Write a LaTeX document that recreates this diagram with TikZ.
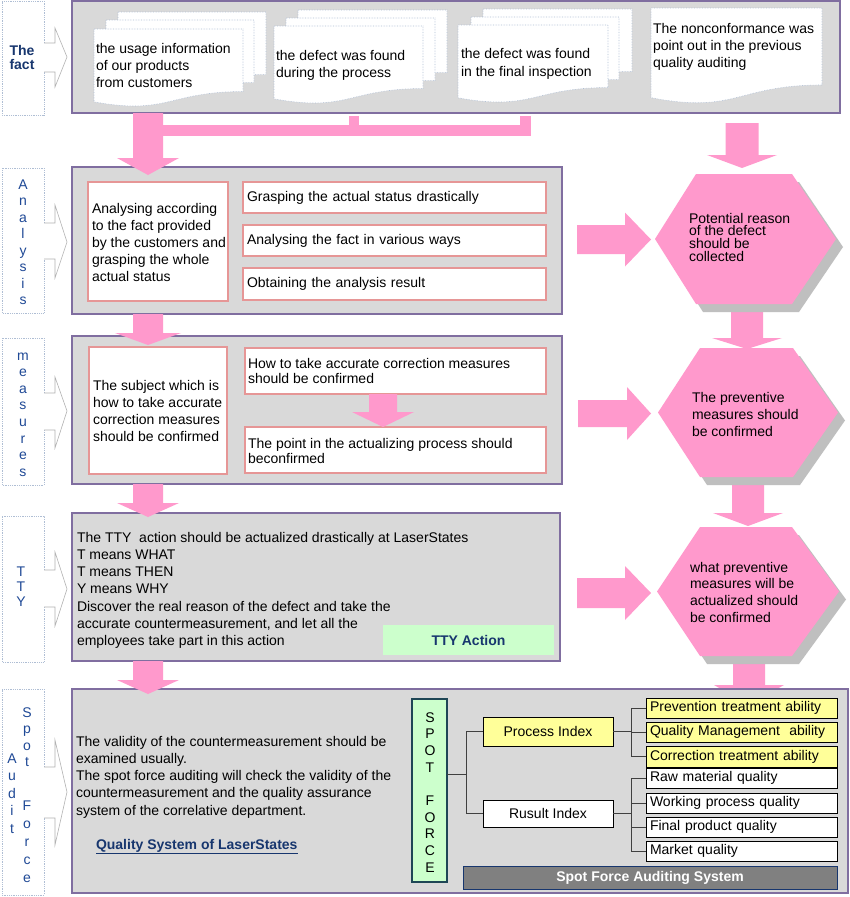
\documentclass[tikz,border=0pt]{standalone}
\usepackage{fontspec}
\setmainfont{Liberation Sans}
\definecolor{pinkA}{RGB}{255,153,204}
\definecolor{panelF}{RGB}{217,217,217}
\definecolor{panelB}{RGB}{128,110,160}
\definecolor{salm}{RGB}{230,150,150}
\definecolor{shadowG}{RGB}{191,191,191}
\definecolor{navyT}{RGB}{23,54,110}
\definecolor{blueT}{RGB}{31,73,150}
\definecolor{tagB}{RGB}{175,190,212}
\definecolor{greenF}{RGB}{204,255,204}
\definecolor{yellF}{RGB}{255,255,153}
\definecolor{tealB}{RGB}{30,70,85}
\definecolor{barF}{RGB}{128,128,128}
\definecolor{treeL}{RGB}{64,64,64}
\newcommand{\fsz}[1]{\fontsize{14}{#1}\selectfont\lineskiplimit=-20pt\relax}
\newcommand{\topst}{\rule{0pt}{11pt}}
% side tag: top, bottom, shaft top, shaft bottom, head top, head bottom, tip y
\newcommand{\sidetag}[7]{%
  \draw[tagline] (44,#3) -- (44,#1) -- (2,#1) -- (2,#2) -- (44,#2) -- (44,#4);
  \draw[tagarrow] (44,#3) -- (55,#3) -- (55,#5) -- (67,#7) -- (55,#6) -- (55,#4) -- (44,#4);}
% document page: x1 y1 x2 h
\newcommand{\docpg}[4]{%
  \filldraw[docst] (#1,#2) -- (#3,#2) -- (#3,{#2+0.802*#4}) .. controls ({(#1+#3)/2},{#2+0.802*#4}) and ({(#1+#3)/2},{#2+1.107*#4}) .. (#1,{#2+0.934*#4}) -- cycle;}
% pink down arrow: cx y0 y1 y2 shaft-half head-half
\newcommand{\pkdown}[6]{%
  \fill[pinkA] ({#1-#5},#2) -- ({#1+#5},#2) -- ({#1+#5},#3) -- ({#1+#6},#3) -- (#1,#4) -- ({#1-#6},#3) -- ({#1-#5},#3) -- cycle;}
% pink right arrow: cy x0 x1 x2 shaft-half head-half
\newcommand{\pkright}[6]{%
  \fill[pinkA] (#2,{#1-#5}) -- (#3,{#1-#5}) -- (#3,{#1-#6}) -- (#4,#1) -- (#3,{#1+#6}) -- (#3,{#1+#5}) -- (#2,{#1+#5}) -- cycle;}
% hexagon: xl xa xb xr yt yb
\newcommand{\hexa}[6]{%
  \fill[shadowG,shift={(7,8)}] (#1,{(#5+#6)/2}) -- (#2,#5) -- (#3,#5) -- (#4,{(#5+#6)/2}) -- (#3,#6) -- (#2,#6) -- cycle;
  \fill[pinkA] (#1,{(#5+#6)/2}) -- (#2,#5) -- (#3,#5) -- (#4,{(#5+#6)/2}) -- (#3,#6) -- (#2,#6) -- cycle;}
\begin{document}
\begin{tikzpicture}[x=1pt,y=-1pt,
 every node/.style={inner sep=0pt,outer sep=0pt,font=\fsz{17}},
 panel/.style={draw=panelB,line width=1.4pt,fill=panelF,anchor=north west},
 sbox/.style={draw=salm,line width=1.1pt,fill=white,anchor=north west},
 lbox/.style={sbox,align=left,inner xsep=4pt,text width=295,minimum width=303},
 txt/.style={anchor=north west,align=left},
 tagtxt/.style={anchor=north,align=center,text=blueT},
 tagline/.style={draw=tagB,densely dotted,line width=0.8pt},
 tagarrow/.style={draw=black!30,line width=0.6pt,fill=white},
 docst/.style={draw=tagB,densely dotted,line width=0.6pt,fill=white},
 tbox/.style={draw=black,line width=0.9pt,anchor=north west},
 rbox/.style={tbox,align=left,inner xsep=4pt,text width=183,minimum width=191,minimum height=20},
 tree/.style={draw=treeL,line width=0.8pt}]
\useasboundingbox (0,0) rectangle (850,897);
\fill[white] (0,0) rectangle (850,897);

% side tags
\sidetag{1}{115}{43}{72}{28}{87}{57}
\sidetag{168}{313}{223}{259}{205}{278}{242}
\sidetag{338}{485}{393}{430}{377}{448}{411}
\sidetag{516}{662}{570}{607}{552}{626}{589}
\sidetag{689}{895}{767}{818}{740}{845}{792}
\node[tagtxt,text=navyT,font=\fsz{14.5}\bfseries] (tfact) at (22,44) {\topst The\\fact};
\node[tagtxt,font=\fsz{16.5}] (tana) at (23,178) {\topst A\\n\\a\\l\\y\\s\\i\\s};
\node[tagtxt,font=\fsz{16.6}] (tmea) at (23,349) {\topst m\\e\\a\\s\\u\\r\\e\\s};
\node[tagtxt,font=\fsz{15}] (ttty) at (21,565) {\topst T\\T\\Y};
\node[tagtxt,font=\fsz{16.6}] (tspot) at (27,706) {\topst S\\p\\o\\t};
\node[tagtxt,font=\fsz{18}] (tforce) at (27,799) {\topst F\\o\\r\\c\\e};
\node[tagtxt,font=\fsz{17.6}] (taudit) at (12,752) {\topst A\\u\\d\\i\\t};

% arrows lying behind
\pkdown{749}{656}{685}{705}{16}{35}
\pkdown{747}{304}{338}{349}{16}{35}
\pkdown{748}{477}{513}{526}{16}{35}

% panels
\node[panel,minimum width=768,minimum height=112] (pfact) at (72,1) {};
\node[panel,minimum width=490,minimum height=147] (pana) at (72,167) {};
\node[panel,minimum width=490,minimum height=148] (pmea) at (72,336) {};
\node[panel,minimum width=488,minimum height=148] (ptty) at (72,513) {};
\node[panel,minimum width=776,minimum height=204] (pspot) at (72,689) {};

% fact documents
\docpg{118}{12}{266}{78} \docpg{106}{20}{254}{78} \docpg{94}{29}{243}{78}
\docpg{298}{10}{447}{78} \docpg{286}{18}{435}{78} \docpg{274}{26}{423}{78}
\docpg{483}{9}{632}{78} \docpg{471}{17}{619}{78} \docpg{458}{25}{608}{78}
\docpg{651}{8}{822}{96}
\node[txt] (f1) at (96,42) {\topst the usage information\\of our products\\from customers};
\node[txt] (f2) at (276,49) {\topst the defect was found\\during the process};
\node[txt,font=\fsz{18}] (f3) at (461,47) {\topst the defect was found\\in the final inspection};
\node[txt] (f4) at (653,22) {\topst The nonconformance was\\point out in the previous\\quality auditing};

% analysis
\node[sbox,minimum width=140,minimum height=119] (abig) at (88,182) {};
\node[txt] (abigt) at (92,202) {\topst Analysing according\\to the fact provided\\by the customers and\\grasping the whole\\actual status};
\node[lbox,minimum height=31] (ab1) at (243,182) {Grasping the actual status drastically};
\node[lbox,minimum height=31] (ab2) at (243,225) {Analysing the fact in various ways};
\node[lbox,minimum height=32] (ab3) at (243,268) {Obtaining the analysis result};

% measures
\node[sbox,minimum width=138,minimum height=127] (mbig) at (89,347) {};
\node[txt,font=\fsz{17.3}] (mbigt) at (93,379) {\topst The subject which is\\how to take accurate\\correction measures\\should be confirmed};
\node[sbox,minimum width=301,minimum height=46] (mb1) at (245,348) {};
\node[txt,font=\fsz{15}] (mb1t) at (248,357) {\topst How to take accurate correction measures\\should be confirmed};
\node[sbox,minimum width=301,minimum height=46] (mb2) at (245,427) {};
\node[txt,font=\fsz{15}] (mb2t) at (248,437) {\topst The point in the actualizing process should\\beconfirmed};
\pkdown{383}{394}{412}{427}{14}{31}

% TTY
\node[txt,font=\fsz{17.3}] (ttyt) at (77,531) {\topst The TTY\ \ action should be actualized drastically at LaserStates\\T means WHAT\\T means THEN\\Y means WHY\\Discover the real reason of the defect and take the\\accurate countermeasurement, and let all the\\employees take part in this action};
\node[anchor=north west,fill=greenF,minimum width=171,minimum height=30,font=\fsz{17}\bfseries,text=navyT] (ttya) at (383,625) {TTY Action};

% spot force
\node[txt,font=\fsz{17.25}] (spt) at (76,735) {\topst The validity of the countermeasurement should be\\examined usually.\\The spot force auditing will check the validity of the\\countermeasurement and the quality assurance\\system of the correlative department.};
\node[anchor=base west,font=\fsz{17}\bfseries,text=navyT] (qsys) at (96,849) {\underline{Quality System of LaserStates}};
\node[anchor=north west,draw=tealB,line width=1.3pt,fill=greenF,minimum width=35,minimum height=183] (spotf) at (412,699) {};
\node[anchor=north,align=center,font=\fsz{16.7}] (spotl) at (430,711) {\topst S\\P\\O\\T\\\mbox{}\\F\\O\\R\\C\\E};
\node[tbox,fill=yellF,minimum width=130,minimum height=29] (pidx) at (483,717) {Process Index};
\node[tbox,fill=white,minimum width=130,minimum height=27] (ridx) at (483,800) {Rusult Index};
\node[rbox,fill=yellF] (prev) at (646,698) {Prevention treatment ability};
\node[rbox,fill=yellF] (qman) at (646,722) {Quality Management\ \ ability};
\node[rbox,fill=yellF,minimum height=21] (corr) at (646,746) {Correction treatment ability};
\node[rbox,fill=white] (raw) at (646,768) {Raw material quality};
\node[rbox,fill=white] (work) at (646,793) {Working process quality};
\node[rbox,fill=white] (fin) at (646,817) {Final product quality};
\node[rbox,fill=white] (mkt) at (646,841) {Market quality};
\node[anchor=north west,draw=navyT,line width=1pt,fill=barF,minimum width=374,minimum height=23,text=white,font=\fsz{17}\bfseries] (sfas) at (463,866) {Spot Force Auditing System};
\coordinate (ja) at (466,774);
\coordinate (jb) at (631,774);
\draw[tree] (spotf.east |- ja) -- (ja);
\draw[tree] (pidx.west) -- (pidx.west -| ja) -- (ridx.west -| ja) -- (ridx.west);
\draw[tree] (pidx.east) -- (pidx.east -| jb);
\draw[tree] (prev.west -| jb) -- (corr.west -| jb);
\foreach \n in {prev,qman,corr} \draw[tree] (\n.west -| jb) -- (\n.west);
\draw[tree] (ridx.east) -- (ridx.east -| jb);
\draw[tree] (raw.west -| jb) -- (mkt.west -| jb);
\foreach \n in {raw,work,fin,mkt} \draw[tree] (\n.west -| jb) -- (\n.west);

% hexagons
\hexa{655}{696}{792}{836}{174}{304}
\hexa{658}{700}{793}{838}{348}{477}
\hexa{657}{700}{792}{839}{527}{656}
\node[txt,font=\fsz{12.7}] (h1t) at (689,212) {\topst Potential reason\\of the defect\\should be\\collected};
\node[txt] (h2t) at (692,391) {\topst The preventive\\measures should\\be confirmed};
\node[txt,font=\fsz{16.7}] (h3t) at (690,561) {\topst what preventive\\measures will be\\actualized should\\be confirmed};

% pink arrows on top
\pkdown{742}{123}{155}{168}{16.5}{35}
\pkdown{148}{113}{158}{175}{15}{31}
\fill[pinkA] (163,125) rectangle (531,136);
\fill[pinkA] (349,116) rectangle (359,126);
\fill[pinkA] (520,116) rectangle (531,126);
\pkdown{148}{314}{333}{345}{15}{33}
\pkdown{148}{484}{503}{517}{15}{31}
\pkdown{148}{661}{680}{694}{15}{31}
\pkright{239.5}{577}{625}{651}{14.5}{27}
\pkright{413.5}{578}{627}{651}{13.5}{26.5}
\pkright{593}{577}{625}{651}{15}{27}
\end{tikzpicture}
\end{document}
